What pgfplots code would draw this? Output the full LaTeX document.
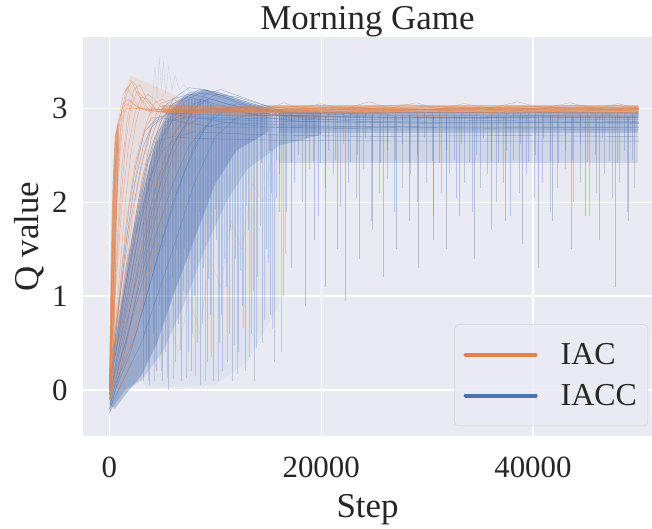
\documentclass[border=0pt]{standalone}
\usepackage{pgfplots}
\pgfplotsset{compat=1.18}
\usepackage{fontspec}
\setmainfont{Liberation Serif}
\definecolor{bgc}{HTML}{EAEAF2}
\definecolor{sbblue}{HTML}{4C72B0}
\definecolor{sborange}{HTML}{DD8452}
\definecolor{txt}{HTML}{262626}
\pgfplotsset{
 bt/.style={sbblue, line width=0.45bp, opacity=0.5, forget plot},
 ot/.style={sborange, line width=0.45bp, opacity=0.5, forget plot},
 spk/.style={draw=none, forget plot, error bars/.cd, y dir=minus, y explicit, error mark=none,
   error bar style={draw=sbblue, line width=0.5bp, opacity=#1}},
}
\begin{document}
\begin{tikzpicture}
\path[use as bounding box] (-83bp,-93bp) rectangle (569bp,436bp);
\begin{axis}[
 at={(0,0)}, anchor=south west, scale only axis, width=569bp, height=399bp,
 xmin=-2500, xmax=51250, ymin=-0.49, ymax=3.76,
 axis background/.style={fill=bgc},
 axis line style={draw=none},
 grid=major, major grid style={white, line width=1.3bp},
 major tick length=0pt,
 xtick={0,20000,40000}, ytick={0,1,2,3},
 scaled x ticks=false,
 xticklabel style={/pgf/number format/1000 sep={}},
 /pgf/number format/assume math mode=true,
 tick label style={font=\fontsize{31}{36}\selectfont, text=txt},
 yticklabel style={xshift=-12bp},
 xticklabel style={yshift=-17bp},
 xlabel={Step}, ylabel={Q value},
 label style={font=\fontsize{35}{40}\selectfont, text=txt},
 xlabel style={at={(axis description cs:0.5,-0.205)}, anchor=base},
 ylabel style={at={(axis description cs:-0.094,0.5)}, anchor=center},
 title={Morning Game}, title style={font=\fontsize{35}{40}\selectfont, text=txt, at={(axis description cs:0.5,1)}, anchor=base, yshift=2bp, inner sep=0bp},
 legend style={at={(0.993,0.025)}, anchor=south east, draw=black!18, fill=bgc, fill opacity=0.85, text opacity=1,
   rounded corners=4bp, font=\fontsize{32}{37}\selectfont, text=txt, inner xsep=9bp, inner ysep=17bp, row sep=14bp},
 legend cell align=left,
 legend image code/.code={\draw[#1, line cap=round] (0bp,0bp) -- (70bp,0bp);},
]
% ---------- blue density areas ----------
\addplot[fill=sbblue, fill opacity=0.25, draw=none, forget plot] coordinates {
 (0,-0.1)(600,0.6)(1500,1.3)(3000,2.1)(4500,2.7)(6000,3.05)(7500,3.17)(9000,3.2)(11000,3.15)(13000,3.07)(15000,3.0)(17000,2.97)(20000,2.96)
 (20000,2.72)(16000,2.6)(13000,2.35)(11000,2.0)(9000,1.5)(7000,0.9)(5000,0.4)(3000,0.1)(1500,0.0)(500,-0.15)(0,-0.25)} -- cycle;
\addplot[fill=sbblue, fill opacity=0.35, draw=none, forget plot] coordinates {
 (0,-0.15)(1000,0.7)(2500,1.75)(4000,2.5)(5500,2.95)(7000,3.12)(9000,3.2)(11000,3.13)(13000,3.05)(15000,3.0)
 (15000,2.75)(12000,2.55)(10000,2.2)(8000,1.6)(6000,1.0)(4500,0.5)(3000,0.15)(1500,-0.05)(500,-0.2)} -- cycle;
\addplot[fill=sbblue, fill opacity=0.06, draw=none, forget plot] coordinates {
 (3000,0.1)(5000,0.4)(7000,0.9)(9000,1.5)(11000,2.0)(13000,2.35)(16000,2.6)(16000,0.9)(13000,0.3)(10000,0.05)(3500,0.02)} -- cycle;
\addplot[fill=sbblue, fill opacity=0.16, draw=none, forget plot] coordinates {
 (16000,2.42)(49900,2.42)(49900,2.96)(16000,2.96)} -- cycle;
\addplot[fill=sbblue, fill opacity=0.25, draw=none, forget plot] coordinates {
 (16000,2.74)(49900,2.74)(49900,2.96)(16000,2.96)} -- cycle;
% ---------- blue spikes ----------
\addplot[spk=0.3] coordinates {
 (3200,2.0) -= (0,1.9) (3500,2.2) -= (0,1.9) (3800,2.4) -= (0,2.35) (4100,2.5) -= (0,1.9) (4400,2.6) -= (0,2.4)
 (4700,2.7) -= (0,1.8) (5000,2.8) -= (0,2.7) (5300,2.85) -= (0,2.45) (5600,2.9) -= (0,2.9) (5900,2.95) -= (0,1.75)
 (6200,3.0) -= (0,2.7) (6500,3.0) -= (0,2.3) (6800,3.05) -= (0,2.95) (7100,3.05) -= (0,1.55) (7400,3.1) -= (0,2.7)
 (7700,3.1) -= (0,2.9) (8000,3.1) -= (0,2.1) (8300,3.1) -= (0,2.6) (8600,3.1) -= (0,3.05) (8900,3.1) -= (0,1.8)
 (9200,3.1) -= (0,2.8) (9500,3.05) -= (0,2.25) (9800,3.05) -= (0,2.95) (10100,3.0) -= (0,1.4) (10400,3.0) -= (0,2.5)
 (10700,3.0) -= (0,2.8) (11000,3.0) -= (0,1.9) (11300,3.0) -= (0,2.4) (11600,2.98) -= (0,2.88) (11900,2.98) -= (0,1.58)
 (12200,2.97) -= (0,2.57) (12500,2.97) -= (0,2.07) (12800,2.96) -= (0,2.76) (13100,2.96) -= (0,1.26) (13400,2.95) -= (0,2.35)
 (13700,2.95) -= (0,2.85) (14000,2.95) -= (0,1.75) (14400,2.95) -= (0,2.45) (14800,2.95) -= (0,1.45) (15200,2.95) -= (0,2.15)
 (15600,2.95) -= (0,2.65) (16000,2.95) -= (0,1.05) (16400,2.95) -= (0,1.95)};
\addplot[spk=0.25] coordinates {
 (3350,2.1) -= (0,1.5) (3650,2.3) -= (0,2.2) (3950,2.45) -= (0,1.2) (4250,2.55) -= (0,2.45) (4550,2.65) -= (0,1.6)
 (4850,2.75) -= (0,2.55) (5150,2.82) -= (0,1.3) (5450,2.88) -= (0,2.75) (5750,2.92) -= (0,2.0) (6050,2.97) -= (0,2.85)
 (6350,3.0) -= (0,1.5) (6650,3.02) -= (0,2.6) (6950,3.05) -= (0,2.0) (7250,3.08) -= (0,2.95) (7550,3.1) -= (0,1.7)
 (7850,3.1) -= (0,2.5) (8150,3.1) -= (0,2.95) (8450,3.1) -= (0,1.2) (8750,3.1) -= (0,2.4) (9050,3.1) -= (0,3.0)
 (9350,3.08) -= (0,1.9) (9650,3.05) -= (0,2.7) (9950,3.03) -= (0,1.1) (10250,3.0) -= (0,2.9) (10550,3.0) -= (0,2.2)
 (10850,3.0) -= (0,1.6) (11150,3.0) -= (0,2.7) (11450,2.99) -= (0,1.3) (11750,2.98) -= (0,2.5) (12050,2.97) -= (0,2.8)
 (12350,2.97) -= (0,1.7) (12650,2.96) -= (0,2.3) (12950,2.96) -= (0,1.0) (13250,2.95) -= (0,2.6) (13550,2.95) -= (0,1.9)
 (13850,2.95) -= (0,2.5) (14200,2.95) -= (0,1.2) (14600,2.95) -= (0,2.2) (15000,2.95) -= (0,1.6) (15400,2.95) -= (0,2.3)
 (15800,2.95) -= (0,0.9) (16200,2.95) -= (0,2.55) (16600,2.95) -= (0,1.5)};
\addplot[spk=0.35] coordinates {
 (17200,2.92) -= (0,1.62) (18500,2.92) -= (0,2.02) (19300,2.92) -= (0,1.32) (20400,2.92) -= (0,1.82) (21500,2.92) -= (0,1.42)
 (22300,2.92) -= (0,1.97) (23600,2.92) -= (0,1.52) (24800,2.92) -= (0,1.22) (25900,2.92) -= (0,1.72) (27100,2.92) -= (0,1.42)
 (28300,2.92) -= (0,1.12) (29200,2.92) -= (0,1.62) (30600,2.92) -= (0,1.32) (31800,2.92) -= (0,1.42) (33000,2.92) -= (0,1.07)
 (34500,2.92) -= (0,1.52) (36100,2.92) -= (0,1.22) (37400,2.92) -= (0,1.12) (39000,2.92) -= (0,1.37) (40500,2.92) -= (0,1.62)
 (41800,2.92) -= (0,1.12) (43600,2.92) -= (0,1.42) (44900,2.92) -= (0,1.07) (46300,2.92) -= (0,1.32) (47800,2.92) -= (0,1.82)
 (49000,2.92) -= (0,1.12)};
\addplot[spk=0.3] coordinates {
 (15300,2.92) -= (0,0.82) (16000,2.92) -= (0,0.62) (16700,2.92) -= (0,1.02) (17500,2.92) -= (0,0.72) (18200,2.92) -= (0,0.92)
 (18900,2.92) -= (0,0.57) (19700,2.92) -= (0,1.07) (20400,2.92) -= (0,0.77) (21100,2.92) -= (0,0.62) (21800,2.92) -= (0,0.97)
 (22600,2.92) -= (0,0.72) (23300,2.92) -= (0,0.87) (24000,2.92) -= (0,0.57) (24700,2.92) -= (0,1.12) (25500,2.92) -= (0,0.82)
 (26200,2.92) -= (0,0.67) (26900,2.92) -= (0,1.02) (27700,2.92) -= (0,0.77) (28400,2.92) -= (0,0.62) (29100,2.92) -= (0,0.92)
 (29900,2.92) -= (0,0.72) (30600,2.92) -= (0,1.07) (31300,2.92) -= (0,0.82) (32100,2.92) -= (0,0.62) (32800,2.92) -= (0,0.87)
 (33500,2.92) -= (0,0.72) (34300,2.92) -= (0,1.02) (35000,2.92) -= (0,0.77) (35700,2.92) -= (0,0.62) (36500,2.92) -= (0,0.92)
 (37200,2.92) -= (0,0.72) (37900,2.92) -= (0,1.07) (38700,2.92) -= (0,0.82) (39400,2.92) -= (0,0.62) (40100,2.92) -= (0,0.87)
 (40900,2.92) -= (0,0.72) (41600,2.92) -= (0,1.02) (42300,2.92) -= (0,0.77) (43100,2.92) -= (0,0.57) (43800,2.92) -= (0,0.92)
 (44500,2.92) -= (0,0.72) (45300,2.92) -= (0,1.07) (46000,2.92) -= (0,0.82) (46700,2.92) -= (0,0.62) (47500,2.92) -= (0,0.87)
 (48200,2.92) -= (0,0.72) (48900,2.92) -= (0,1.02) (49600,2.92) -= (0,0.77)};
\addplot[spk=0.3] coordinates {
 (14350,2.95) -= (0,0.53) (15050,2.95) -= (0,0.40) (15750,2.95) -= (0,0.50) (16450,2.95) -= (0,0.33) (17150,2.95) -= (0,0.52)
 (17850,2.95) -= (0,0.45) (18550,2.95) -= (0,0.27) (19250,2.95) -= (0,0.51) (19950,2.95) -= (0,0.53) (20650,2.95) -= (0,0.40)
 (21350,2.95) -= (0,0.50) (22050,2.95) -= (0,0.33) (22750,2.95) -= (0,0.52) (23450,2.95) -= (0,0.45) (24150,2.95) -= (0,0.27)
 (24850,2.95) -= (0,0.51) (25550,2.95) -= (0,0.53) (26250,2.95) -= (0,0.40) (26950,2.95) -= (0,0.50) (27650,2.95) -= (0,0.33)
 (28350,2.95) -= (0,0.52) (29050,2.95) -= (0,0.45) (29750,2.95) -= (0,0.27) (30450,2.95) -= (0,0.51) (31150,2.95) -= (0,0.53)
 (31850,2.95) -= (0,0.40) (32550,2.95) -= (0,0.50) (33250,2.95) -= (0,0.33) (33950,2.95) -= (0,0.52) (34650,2.95) -= (0,0.45)
 (35350,2.95) -= (0,0.27) (36050,2.95) -= (0,0.51) (36750,2.95) -= (0,0.53) (37450,2.95) -= (0,0.40) (38150,2.95) -= (0,0.50)
 (38850,2.95) -= (0,0.33) (39550,2.95) -= (0,0.52) (40250,2.95) -= (0,0.45) (40950,2.95) -= (0,0.27) (41650,2.95) -= (0,0.51)
 (42350,2.95) -= (0,0.53) (43050,2.95) -= (0,0.40) (43750,2.95) -= (0,0.50) (44450,2.95) -= (0,0.33) (45150,2.95) -= (0,0.52)
 (45850,2.95) -= (0,0.45) (46550,2.95) -= (0,0.27) (47250,2.95) -= (0,0.51) (47950,2.95) -= (0,0.53) (48650,2.95) -= (0,0.40)
 (49350,2.95) -= (0,0.50)};
% ---------- blue traces ----------
\addplot[sbblue!60!gray, line width=0.4bp, opacity=0.2, forget plot] coordinates {(3500,2.5)(4000,3.0)(4300,3.45)(4500,3.1)(4700,3.55)(4900,3.2)(5100,3.5)(5300,3.15)(5600,3.45)(5900,3.2)(6200,3.35)(6600,3.2)(7000,3.25)(8000,3.15)};
\addplot[bt] coordinates {(0,-0.05)(1000,0.7)(2000,1.5)(3000,2.2)(4000,2.7)(5000,3.0)(6000,3.1)(7500,3.15)(9000,3.12)(11000,3.05)(14000,2.98)(17000,2.96)(24000,2.95)(32000,2.96)(40000,2.94)(50000,2.95)};
\addplot[bt] coordinates {(0,0.1)(1000,0.6)(2000,1.2)(3000,1.8)(4000,2.3)(5000,2.7)(6000,2.95)(7000,3.1)(8500,3.2)(10000,3.18)(12000,3.1)(15000,3.0)(18000,2.94)(26000,2.93)(36000,2.92)(50000,2.93)};
\addplot[bt] coordinates {(0,-0.2)(1000,0.3)(2000,0.9)(3000,1.5)(4000,2.0)(5000,2.4)(6000,2.7)(7000,2.9)(8000,3.05)(9500,3.1)(12000,3.02)(16000,2.92)(25000,2.9)(38000,2.91)(50000,2.9)};
\addplot[bt] coordinates {(0,0.0)(800,0.8)(1600,1.6)(2400,2.2)(3200,2.6)(4200,2.85)(5500,2.95)(7000,2.92)(10000,2.9)(20000,2.88)(35000,2.89)(50000,2.88)};
\addplot[bt] coordinates {(0,-0.1)(1500,0.5)(3000,1.2)(4500,1.9)(6000,2.5)(7500,2.9)(9000,3.15)(10500,3.2)(12500,3.12)(15000,3.02)(18000,2.9)(24000,2.86)(36000,2.87)(50000,2.86)};
\addplot[bt] coordinates {(0,0.2)(1000,1.0)(2000,1.8)(3000,2.4)(4000,2.8)(5000,2.9)(7000,2.85)(10000,2.8)(22000,2.8)(36000,2.79)(50000,2.8)};
\addplot[bt] coordinates {(0,-0.15)(2000,0.4)(4000,1.2)(6000,2.0)(8000,2.6)(10000,2.95)(12000,3.05)(14000,3.0)(17000,2.9)(28000,2.9)(40000,2.91)(50000,2.9)};
\addplot[bt] coordinates {(0,0.05)(1200,0.9)(2400,1.7)(3600,2.4)(4800,2.85)(6000,3.05)(7500,3.12)(9000,3.08)(12000,2.98)(15000,2.9)(18000,2.86)(30000,2.84)(42000,2.85)(50000,2.84)};
\addplot[bt] coordinates {(0,-0.25)(1000,0.2)(2000,0.7)(3000,1.3)(4000,1.8)(5000,2.3)(6000,2.6)(7000,2.8)(8500,2.9)(11000,2.85)(15000,2.8)(25000,2.78)(40000,2.78)(50000,2.77)};
\addplot[bt] coordinates {(0,0.0)(600,0.6)(1200,1.3)(1800,1.9)(2500,2.4)(3300,2.75)(4500,2.9)(6000,2.95)(9000,2.93)(20000,2.92)(34000,2.93)(50000,2.92)};
\addplot[bt] coordinates {(0,-0.1)(2500,0.6)(5000,1.6)(7000,2.3)(9000,2.8)(11000,3.0)(13000,3.02)(16000,2.95)(26000,2.95)(38000,2.96)(50000,2.95)};
\addplot[bt] coordinates {(0,0.15)(1000,0.8)(2000,1.4)(3000,1.9)(4000,2.3)(5000,2.55)(6500,2.7)(8000,2.75)(14000,2.72)(24000,2.7)(38000,2.71)(50000,2.7)};
\addplot[bt] coordinates {(0,0.0)(1500,1.0)(3000,2.0)(4500,2.7)(6000,3.1)(7500,3.22)(9000,3.2)(11000,3.12)(14000,3.02)(17000,2.97)(30000,2.97)(50000,2.97)};
\addplot[bt] coordinates {(0,-0.05)(2000,0.9)(4000,1.9)(6000,2.6)(8000,3.0)(10000,3.15)(12000,3.12)(15000,3.02)(20000,2.96)(34000,2.96)(50000,2.96)};
\addplot[bt] coordinates {(0,0.1)(900,0.7)(1800,1.4)(2700,2.0)(3600,2.45)(4500,2.65)(6000,2.7)(8000,2.68)(16000,2.66)(30000,2.65)(50000,2.65)};
\addplot[bt] coordinates {(0,-0.2)(3000,0.5)(6000,1.5)(8000,2.2)(10000,2.7)(12000,2.9)(14000,2.95)(17000,2.92)(28000,2.9)(42000,2.9)(50000,2.9)};
\addplot[bt] coordinates {(0,0.05)(700,0.5)(1400,1.0)(2100,1.5)(2800,2.0)(3500,2.4)(4300,2.7)(5200,2.85)(7000,2.9)(16000,2.86)(32000,2.85)(50000,2.85)};
\addplot[bt] coordinates {(0,0.0)(1500,0.5)(3000,1.1)(4500,1.7)(6000,2.2)(7500,2.6)(9000,2.8)(11000,2.85)(20000,2.81)(36000,2.8)(50000,2.8)};
\addplot[bt] coordinates {(0,0.0)(1200,0.6)(2400,1.3)(3600,2.0)(4800,2.55)(6000,2.9)(7200,3.08)(8500,3.16)(10000,3.14)(12500,3.05)(16000,2.95)(26000,2.94)(50000,2.94)};
\addplot[bt] coordinates {(0,-0.1)(800,0.4)(1600,0.9)(2400,1.45)(3200,1.95)(4000,2.35)(5000,2.7)(6000,2.88)(7500,2.98)(10000,3.0)(14000,2.93)(30000,2.9)(50000,2.91)};
% ---------- orange density areas ----------
\addplot[fill=sborange, fill opacity=0.12, draw=none, forget plot] coordinates {
 (300,0.0)(1500,0.0)(3000,0.8)(5000,1.8)(7000,2.6)(9000,2.95)(8000,3.05)(5000,3.2)(3000,3.3)(2000,3.35)(1500,3.2)(800,2.8)(400,1.5)} -- cycle;
\addplot[fill=sborange, fill opacity=0.65, draw=none, forget plot] coordinates {
 (0,-0.1)(0,0.5)(150,1.5)(300,2.2)(500,2.7)(800,2.85)(900,2.6)(700,1.9)(550,1.0)(400,0.2)(250,-0.1)} -- cycle;
\addplot[fill=sborange, fill opacity=0.45, draw=none, forget plot] coordinates {
 (5000,2.955)(49900,2.955)(49900,3.035)(5000,3.035)} -- cycle;
% ---------- orange traces ----------
\addplot[ot] coordinates {(0,0.0)(150,0.9)(300,1.7)(450,2.3)(600,2.65)(800,2.85)(1100,2.95)(1600,3.0)(3000,3.0)(8000,2.98)(15000,3.0)(22000,3.01)(30000,2.99)(38000,3.02)(45000,3.0)(50000,3.01)};
\addplot[ot] coordinates {(0,0.1)(200,1.2)(400,2.0)(600,2.5)(900,2.85)(1300,3.05)(1800,3.1)(2500,3.02)(4000,2.97)(10000,2.99)(20000,3.03)(28000,2.98)(36000,3.0)(44000,3.03)(50000,2.99)};
\addplot[ot] coordinates {(0,-0.05)(250,0.8)(500,1.6)(800,2.3)(1100,2.8)(1500,3.1)(2000,3.3)(2500,3.25)(3000,3.1)(3800,2.98)(6000,2.95)(12000,2.97)(20000,2.98)(30000,3.02)(40000,2.97)(50000,3.0)};
\addplot[ot] coordinates {(0,0.05)(400,0.9)(800,1.7)(1200,2.4)(1700,2.9)(2300,3.2)(2900,3.25)(3500,3.1)(4500,2.97)(9000,2.96)(18000,3.0)(26000,2.97)(34000,3.01)(42000,2.98)(50000,3.02)};
\addplot[ot] coordinates {(0,0.0)(500,0.6)(1000,1.3)(1500,2.0)(2000,2.5)(2500,2.85)(3000,3.05)(3600,3.15)(4200,3.1)(5000,3.0)(8000,2.96)(16000,2.99)(24000,3.02)(32000,2.98)(40000,3.0)(50000,2.97)};
\addplot[ot] coordinates {(0,0.1)(700,0.7)(1400,1.4)(2100,2.0)(2800,2.5)(3500,2.85)(4200,3.05)(5000,3.1)(6000,3.0)(8000,2.95)(14000,2.93)(22000,2.96)(30000,2.94)(40000,2.97)(50000,2.95)};
\addplot[ot] coordinates {(0,-0.1)(300,1.3)(600,2.3)(900,2.8)(1200,3.0)(1600,3.05)(2500,3.0)(5000,2.98)(12000,3.0)(20000,2.98)(28000,3.04)(36000,2.99)(44000,3.01)(50000,3.0)};
\addplot[ot] coordinates {(0,0.0)(1000,0.8)(2000,1.5)(3000,2.1)(4000,2.6)(5000,2.9)(6000,3.05)(7000,3.0)(9000,2.97)(15000,2.99)(25000,3.0)(35000,2.97)(45000,3.01)(50000,2.99)};
\addplot[ot] coordinates {(0,0.05)(1500,0.7)(3000,1.5)(4500,2.2)(6000,2.7)(7500,2.95)(9000,3.0)(12000,2.98)(20000,2.96)(30000,2.99)(40000,3.02)(50000,2.98)};
\addplot[ot] coordinates {(0,0.0)(200,1.0)(400,1.9)(600,2.5)(900,2.9)(1300,3.15)(1700,3.22)(2200,3.12)(2800,3.0)(4000,2.96)(10000,3.0)(18000,3.02)(26000,2.99)(34000,3.0)(42000,2.96)(50000,3.0)};
\addplot[ot] coordinates {(0,0.1)(600,1.1)(1200,2.0)(1800,2.6)(2400,2.95)(3000,3.12)(3600,3.1)(4400,2.99)(7000,2.95)(13000,2.97)(21000,3.0)(29000,2.97)(37000,3.0)(45000,2.98)(50000,3.0)};
\addplot[ot] coordinates {(0,-0.05)(2000,0.5)(4000,1.3)(6000,2.1)(8000,2.7)(10000,2.95)(12000,3.0)(16000,2.97)(24000,3.0)(34000,2.98)(44000,3.0)(50000,2.97)};
\addplot[ot] coordinates {(0,0.0)(350,1.1)(700,2.0)(1050,2.6)(1400,2.95)(1900,3.08)(2600,3.02)(3500,2.98)(8000,3.0)(16000,3.01)(24000,2.98)(32000,3.02)(40000,3.0)(48000,3.03)(50000,3.0)};
\addplot[ot] coordinates {(0,0.05)(800,0.9)(1600,1.8)(2400,2.4)(3200,2.75)(4000,2.9)(5500,2.92)(9000,2.9)(16000,2.92)(26000,2.9)(36000,2.93)(46000,2.91)(50000,2.92)};
\addplot[ot] coordinates {(0,0.0)(300,1.0)(600,1.9)(900,2.6)(1200,3.0)(1600,3.2)(2100,3.28)(2700,3.15)(3400,3.0)(5000,2.95)(10000,2.98)(30000,2.99)(50000,3.0)};
\addplot[ot] coordinates {(0,0.05)(500,1.0)(1000,1.9)(1500,2.6)(2000,3.0)(2600,3.18)(3200,3.12)(4000,3.0)(6000,2.97)(25000,2.98)(50000,2.99)};
\addplot[ot] coordinates {(0,0.0)(1200,1.0)(2400,2.0)(3600,2.7)(4800,3.05)(6000,3.1)(7500,3.0)(10000,2.96)(30000,2.97)(50000,2.98)};
\addplot[sborange, line width=0.4bp, opacity=0.25, forget plot] coordinates {(0,0.0)(1500,0.4)(2500,0.1)(3500,0.6)(4500,0.2)(5500,0.8)(6500,0.4)(7500,1.0)(8500,0.6)(9500,1.4)(10500,1.1)(11500,1.8)(12500,1.5)(13500,2.2)(14500,2.0)(15500,2.6)(16500,2.9)(18000,3.0)(26000,2.98)(36000,3.0)(50000,2.99)};
\addplot[ot] coordinates {(15000,3.0)(16500,3.06)(18000,3.0)(20000,3.05)(22000,2.99)(24500,3.07)(26500,3.0)(29000,3.06)(31000,2.99)(33500,3.05)(36000,3.0)(38500,3.07)(41000,3.0)(43500,3.06)(46000,2.99)(48000,3.05)(50000,3.0)};
% ---------- legend ----------
\addlegendimage{sborange, line width=4bp}
\addlegendentry{\hspace{21bp}IAC}
\addlegendimage{sbblue, line width=4bp}
\addlegendentry{\hspace{21bp}IACC}
\end{axis}
\end{tikzpicture}
\end{document}
